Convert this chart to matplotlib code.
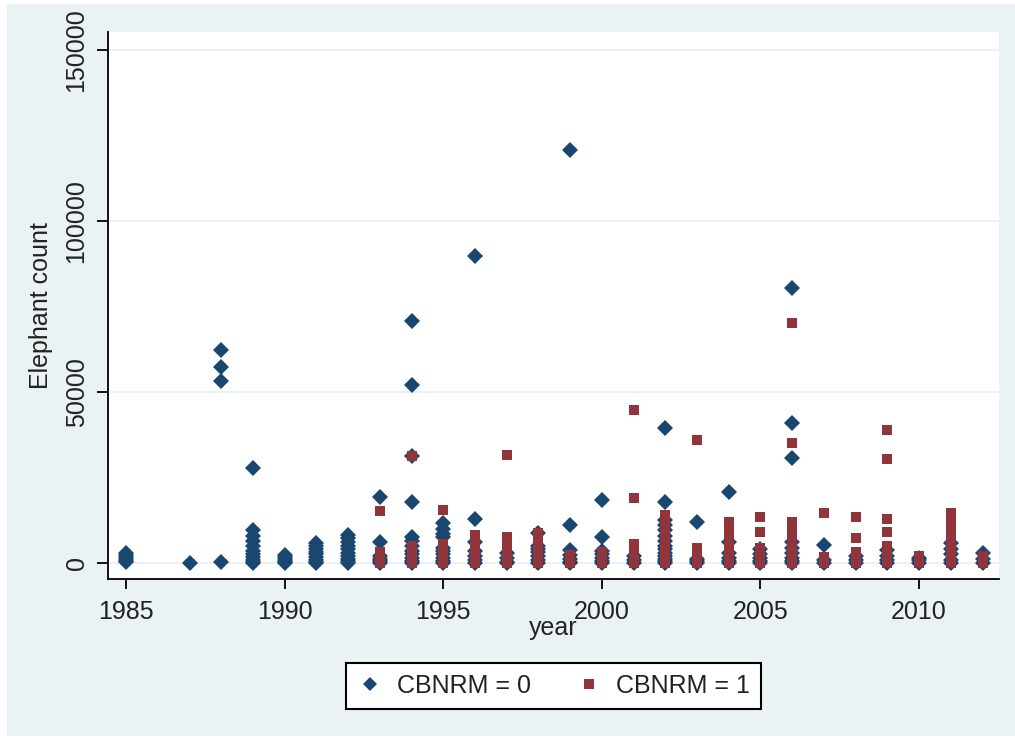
import matplotlib
matplotlib.use("Agg")
import matplotlib.pyplot as plt
from matplotlib.patches import Rectangle

# Datos: conteo de elefantes por año, separados por CBNRM
years0 = [1985, 1985, 1985, 1985, 1985, 1985,
          1987,
          1988, 1988, 1988, 1988,
          1989, 1989, 1989, 1989, 1989, 1989, 1989, 1989, 1989, 1989, 1989,
          1990, 1990, 1990, 1990, 1990, 1990,
          1991, 1991, 1991, 1991, 1991, 1991, 1991, 1991, 1991,
          1992, 1992, 1992, 1992, 1992, 1992, 1992, 1992, 1992, 1992,
          1993, 1993, 1993, 1993, 1993, 1993,
          1994, 1994, 1994, 1994, 1994, 1994, 1994, 1994, 1994, 1994, 1994, 1994,
          1995, 1995, 1995, 1995, 1995, 1995, 1995, 1995, 1995, 1995,
          1996, 1996, 1996, 1996, 1996, 1996, 1996,
          1997, 1997, 1997, 1997,
          1998, 1998, 1998, 1998, 1998, 1998, 1998,
          1999, 1999, 1999, 1999, 1999, 1999, 1999,
          2000, 2000, 2000, 2000, 2000, 2000, 2000,
          2001, 2001, 2001,
          2002, 2002, 2002, 2002, 2002, 2002, 2002, 2002, 2002, 2002, 2002, 2002, 2002, 2002,
          2003, 2003, 2003, 2003,
          2004, 2004, 2004, 2004, 2004, 2004,
          2005, 2005, 2005, 2005, 2005,
          2006, 2006, 2006, 2006, 2006, 2006, 2006, 2006, 2006,
          2007, 2007, 2007,
          2008, 2008, 2008,
          2009, 2009, 2009, 2009,
          2010, 2010, 2010,
          2011, 2011, 2011, 2011, 2011,
          2012, 2012, 2012]
counts0 = [200, 700, 1200, 1700, 2300, 2900,
           100,
           400, 53200, 57300, 62300,
           0, 400, 1000, 1800, 2600, 3500, 5000, 6500, 8000, 9500, 27800,
           0, 300, 700, 1200, 1700, 2300,
           0, 400, 1000, 1700, 2500, 3300, 4200, 5000, 5900,
           0, 500, 1200, 2000, 3000, 4000, 5000, 6200, 7200, 8200,
           0, 500, 1200, 2000, 6100, 19300,
           0, 500, 1500, 2500, 3500, 5000, 6500, 7500, 17900, 31300, 52000, 70800,
           0, 600, 1500, 2500, 3500, 4500, 7500, 8500, 10000, 11700,
           0, 800, 2000, 3500, 6000, 12900, 89800,
           0, 300, 1500, 3000,
           0, 1000, 2000, 3200, 4200, 5000, 8800,
           0, 400, 1200, 2200, 3800, 11100, 120800,
           0, 500, 1500, 2500, 3500, 7700, 18400,
           0, 800, 2000,
           0, 500, 1200, 2000, 3000, 4000, 5000, 6500, 8000, 9500, 11000, 12500, 17900, 39500,
           0, 500, 1200, 12000,
           0, 600, 1500, 3000, 6000, 20800,
           0, 500, 1500, 2500, 4000,
           0, 500, 1500, 3000, 4500, 6000, 30700, 40900, 80400,
           0, 800, 5300,
           0, 1000, 2000,
           0, 1000, 2000, 3800,
           0, 800, 1500,
           0, 1000, 2500, 4000, 5800,
           0, 1200, 2900]

years1 = [1993, 1993, 1993, 1993, 1993, 1993,
          1994, 1994, 1994, 1994, 1994, 1994, 1994,
          1995, 1995, 1995, 1995, 1995, 1995, 1995, 1995,
          1996, 1996, 1996, 1996, 1996, 1996, 1996, 1996, 1996,
          1997, 1997, 1997, 1997, 1997, 1997, 1997, 1997, 1997, 1997,
          1998, 1998, 1998, 1998, 1998, 1998, 1998, 1998,
          1999, 1999, 1999, 1999,
          2000, 2000, 2000, 2000, 2000,
          2001, 2001, 2001, 2001, 2001, 2001, 2001, 2001, 2001,
          2002, 2002, 2002, 2002, 2002, 2002, 2002, 2002, 2002, 2002, 2002, 2002, 2002, 2002, 2002, 2002,
          2003, 2003, 2003, 2003, 2003, 2003, 2003,
          2004, 2004, 2004, 2004, 2004, 2004, 2004, 2004, 2004, 2004, 2004,
          2005, 2005, 2005, 2005, 2005, 2005, 2005, 2005,
          2006, 2006, 2006, 2006, 2006, 2006, 2006, 2006, 2006, 2006, 2006, 2006, 2006, 2006, 2006, 2006,
          2007, 2007, 2007, 2007,
          2008, 2008, 2008, 2008, 2008, 2008, 2008,
          2009, 2009, 2009, 2009, 2009, 2009, 2009, 2009, 2009, 2009,
          2010, 2010, 2010, 2010,
          2011, 2011, 2011, 2011, 2011, 2011, 2011, 2011, 2011, 2011, 2011, 2011, 2011, 2011,
          2012, 2012, 2012, 2012]
counts1 = [0, 800, 1600, 2400, 3200, 15200,
           0, 1000, 2000, 3000, 4000, 5000, 31300,
           0, 800, 1600, 2500, 3500, 4500, 5500, 15500,
           0, 1000, 2000, 3000, 4000, 5000, 6000, 7000, 8300,
           0, 1000, 2000, 3000, 4000, 5000, 6000, 7000, 7600, 31600,
           0, 1000, 2000, 3000, 4000, 5000, 6000, 8800,
           0, 800, 1600, 2400,
           0, 800, 1600, 2400, 3200,
           0, 800, 1600, 2500, 3500, 4500, 5500, 19000, 44700,
           0, 800, 1600, 2500, 3500, 4500, 5500, 6500, 7500, 8500, 9500, 10500, 11500, 12500, 13500, 14000,
           0, 800, 1600, 2500, 3500, 4300, 36000,
           0, 1000, 2000, 3000, 4000, 5000, 6000, 7000, 8000, 9000, 12000,
           0, 800, 1600, 2500, 3500, 4300, 9000, 13400,
           0, 800, 1600, 2500, 3500, 4500, 5500, 6500, 7500, 8500, 9500, 10500, 11500, 12000, 35100, 70200,
           0, 800, 1600, 14600,
           0, 800, 1600, 2400, 3300, 7300, 13400,
           0, 1000, 2000, 3000, 4000, 5000, 9000, 12900, 30400, 38900,
           0, 700, 1500, 2000,
           0, 800, 1600, 2500, 3500, 4500, 7000, 8000, 9000, 10000, 11000, 12000, 13000, 14500,
           0, 700, 1400, 2000]

yticks = [0, 50000, 100000, 150000]
xticks = [1985, 1990, 1995, 2000, 2005, 2010]
labels = ['CBNRM = 0', 'CBNRM = 1']

azul = '#1a476f'
rojo = '#90353b'
fondo = '#eaf2f3'

plt.rcParams['font.family'] = ['Liberation Sans', 'DejaVu Sans']

fig = plt.figure(figsize=(10.15, 7.42), dpi=100, facecolor='white')
# fondo gris-azulado del grafico (estilo Stata), detras de los ejes
fig.patches.append(Rectangle((7 / 1015, 6 / 742), 1 - 7 / 1015, 1 - 10 / 742,
                             transform=fig.transFigure, facecolor=fondo,
                             edgecolor='none', zorder=-10))

ax = fig.add_axes([108 / 1015, 1 - 579 / 742, (999 - 108) / 1015, (579 - 32) / 742])
ax.set_zorder(1)
ax.set_facecolor('white')

ax.plot(years0, counts0, linestyle='none', marker='D', markersize=8.2,
        color=azul, markeredgewidth=0, label=labels[0], zorder=3)
ax.plot(years1, counts1, linestyle='none', marker='s', markersize=7.8,
        color=rojo, markeredgewidth=0, label=labels[1], zorder=4)

ax.set_xlim(1984.43, 2012.52)
ax.set_ylim(-4700, 155300)

ax.set_yticks(yticks)
ax.set_yticklabels([str(v) for v in yticks], rotation=90, va='center')
ax.set_xticks(xticks)
ax.grid(axis='y', color=fondo, linewidth=1.5, zorder=0)
ax.set_axisbelow(True)

for lado in ['top', 'right']:
    ax.spines[lado].set_visible(False)
for lado in ['left', 'bottom']:
    ax.spines[lado].set_linewidth(1.3)
ax.tick_params(axis='both', labelsize=18, width=1.3, color='black', labelcolor='#222222')
ax.tick_params(axis='y', length=8, pad=6)
ax.tick_params(axis='x', length=7, pad=8)

ax.set_xlabel('year', fontsize=18, color='#222222', labelpad=-6)
ax.set_ylabel('Elephant count', fontsize=18, color='#222222', labelpad=8)

leg = fig.legend(loc='upper center', bbox_to_anchor=(553.5 / 1015, 1 - 650 / 742),
                 ncol=2, fontsize=18, frameon=True, fancybox=False,
                 edgecolor='black', facecolor='white', framealpha=1,
                 borderpad=0.45, columnspacing=1.8,
                 handletextpad=0.6, handlelength=1.0, markerscale=0.9)
leg.get_frame().set_linewidth(1.5)
for t in leg.get_texts():
    t.set_color('#222222')

fig.savefig('out.png', dpi=100, facecolor=fig.get_facecolor())
